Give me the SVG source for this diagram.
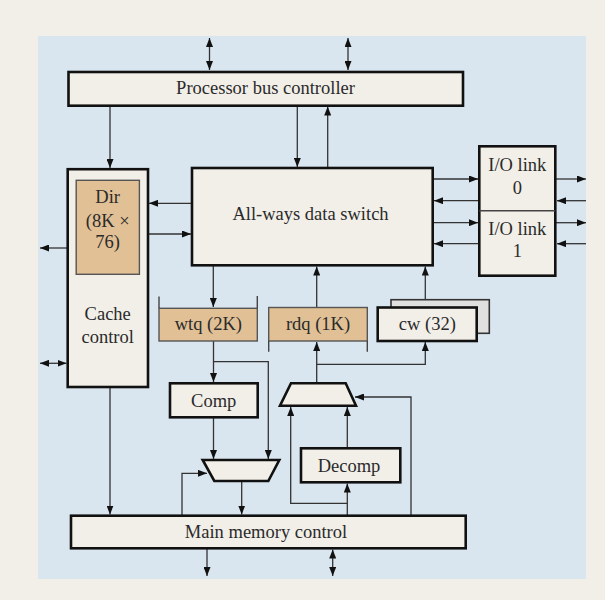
<svg xmlns="http://www.w3.org/2000/svg" width="605" height="600" viewBox="0 0 605 600">
<defs>
<marker id="ah" viewBox="0 0 9 7" refX="9" refY="3.5" markerWidth="9" markerHeight="7" markerUnits="userSpaceOnUse" orient="auto-start-reverse">
<path d="M0,0 L9,3.5 L0,7 z" fill="#111"/>
</marker>
<style>
text{font-family:"Liberation Serif","Times New Roman",serif;font-size:18.5px;fill:#2a2a2a;text-anchor:middle}
.box{fill:#f2efe9;stroke:#111;stroke-width:2.6}
.tan{fill:#e1c095;stroke:#555;stroke-width:1.4}
.thin{fill:none;stroke:#444;stroke-width:1.4}
.c{fill:none;stroke:#333;stroke-width:1.3}
.a{marker-end:url(#ah)}
.d{marker-start:url(#ah);marker-end:url(#ah)}
</style>
</defs>
<rect x="0" y="0" width="605" height="600" fill="#f2efe9"/>
<rect x="38" y="36" width="548" height="543" fill="#dae6ef"/>

<g id="connectors">
<path class="c d" d="M209.5,38 V70"/>
<path class="c d" d="M348,38 V70"/>
<path class="c a" d="M110,105.7 V168"/>
<path class="c a" d="M297.3,105.7 V167"/>
<path class="c a" d="M327.7,168 V106.5"/>
<path class="c a" d="M192,203.3 H149"/>
<path class="c a" d="M148,234 H191"/>
<path class="c a" d="M67,248 H40"/>
<path class="c d" d="M40,363.3 H66.5"/>
<path class="c a" d="M433,179 H478"/>
<path class="c a" d="M479,200.7 H434"/>
<path class="c a" d="M433,222.7 H478"/>
<path class="c a" d="M479,243.7 H434"/>
<path class="c a" d="M556,179 H586"/>
<path class="c a" d="M586,200.7 H557"/>
<path class="c a" d="M556,222.7 H586"/>
<path class="c a" d="M586,243.7 H557"/>
<path class="c a" d="M213.3,265.3 V307"/>
<path class="c a" d="M316.7,307.5 V266.5"/>
<path class="c a" d="M425.3,299.7 V266.5"/>
<path class="c a" d="M213.5,341 V382"/>
<path class="c a" d="M213.5,361.7 H268.3 V459"/>
<path class="c a" d="M213.5,417.3 V459"/>
<path class="c a" d="M182,515.7 V473.3 H207"/>
<path class="c a" d="M241.7,481 V514.5"/>
<path class="c a" d="M110,387.3 V514.5"/>
<path class="c a" d="M316.7,383.3 V342"/>
<path class="c a" d="M316.7,364.3 H425.3 V342"/>
<path class="c a" d="M347.3,515.7 V483.5"/>
<path class="c a" d="M347.3,503.3 H290.7 V407"/>
<path class="c a" d="M347.3,448.3 V407"/>
<path class="c a" d="M411,515.7 V397 H355"/>
<path class="c a" d="M207,548.3 V576"/>
<path class="c d" d="M332.7,549.5 V576"/>
</g>

<g id="pbc">
<rect class="box" x="68.5" y="72" width="394.5" height="33.7"/>
<text x="265.5" y="94">Processor bus controller</text>
</g>
<g id="cache">
<rect class="box" x="67.7" y="169.2" width="80.3" height="217.8"/>
<text x="107.7" y="320">Cache</text>
<text x="107.7" y="343">control</text>
</g>
<g id="dir">
<rect class="tan" x="76.2" y="180.3" width="63.2" height="94"/>
<text x="107.7" y="202.5">Dir</text>
<text x="107.7" y="226.5">(8K ×</text>
<text x="107.7" y="248">76)</text>
</g>
<g id="switch">
<rect class="box" x="192" y="168" width="240.7" height="97.3"/>
<text x="310.5" y="219.5">All-ways data switch</text>
</g>
<g id="io">
<rect class="box" x="479.3" y="146.3" width="76" height="129.4"/>
<line class="thin" x1="479.3" y1="210.7" x2="555.3" y2="210.7"/>
<text x="517.3" y="171">I/O link</text>
<text x="517.3" y="194">0</text>
<text x="517.3" y="234.5">I/O link</text>
<text x="517.3" y="257">1</text>
</g>
<g id="wtq">
<rect class="tan" x="159" y="308.3" width="98.3" height="32.7"/>
<path class="thin" d="M159,296.5 V308.3 M257.3,296 V308.3"/>
<text x="208.3" y="330">wtq (2K)</text>
</g>
<g id="rdq">
<rect class="tan" x="268.7" y="307.5" width="98.6" height="33.5"/>
<path class="thin" d="M268.7,341 V351.7 M367.3,341 V351.7"/>
<text x="318" y="329.5">rdq (1K)</text>
</g>
<g id="cw">
<rect x="391" y="299.7" width="98.3" height="33.6" fill="#e0e0e0" stroke="#333" stroke-width="1.6"/>
<rect class="box" x="377.7" y="307.5" width="99" height="33.5"/>
<text x="427.3" y="329.5">cw (32)</text>
</g>
<g id="comp">
<rect class="box" x="170" y="383.3" width="87.7" height="34"/>
<text x="213.7" y="407">Comp</text>
</g>
<g id="decomp">
<rect class="box" x="301" y="448.3" width="99.3" height="34"/>
<text x="349" y="471.5">Decomp</text>
</g>
<g id="mux-up">
<polygon class="box" points="291,383.3 345.7,383.3 356,405.7 280,405.7"/>
</g>
<g id="mux-down">
<polygon class="box" points="202.7,460 279.3,460 268.3,481 214.3,481"/>
</g>
<g id="mem">
<rect class="box" x="71" y="515.7" width="394.7" height="32.6"/>
<text x="266" y="537.5">Main memory control</text>
</g>
</svg>
